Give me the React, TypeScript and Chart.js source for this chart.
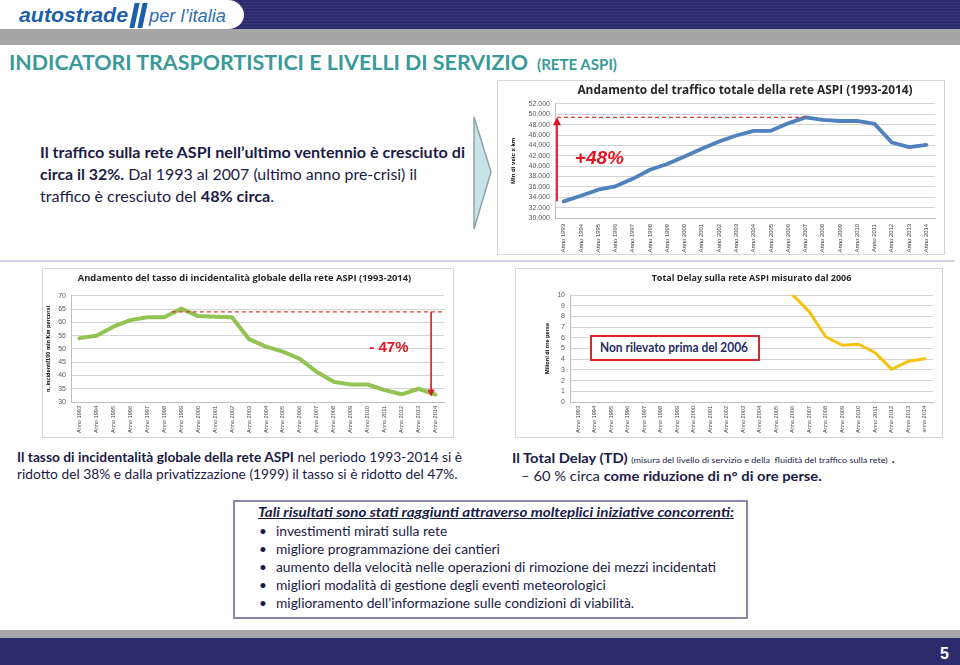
import React, { useEffect, useLayoutEffect, useRef } from "react";
import { Chart, registerables } from "chart.js";

Chart.register(...registerables);
Chart.defaults.font.family = "Liberation Sans";

// ---------------- DATA ----------------
const YEARS = ["1993", "1994", "1995", "1996", "1997", "1998", "1999", "2000", "2001", "2002", "2003",
  "2004", "2005", "2006", "2007", "2008", "2009", "2010", "2011", "2012", "2013", "2014"];
const TRAFFIC_LABELS = YEARS.map((y) => "Anno " + y);
const INCIDENT_LABELS = YEARS.map((y) => "Anno " + y);
const DELAY_LABELS = YEARS.map((y, i) => (i === YEARS.length - 1 ? "anno " : "Anno ") + y);

// Mln di veicoli x km
const TRAFFIC_VALUES = [33200, 34300, 35450, 36100, 37550, 39300, 40400, 41850, 43350, 44750, 45900,
  46800, 46800, 48250, 49400, 48900, 48700, 48700, 48150, 44550, 43650, 44100];
// incidenti / 100 mln km percorsi
const INCIDENT_VALUES = [54.1, 55.0, 58.4, 60.9, 62.0, 62.0, 65.2, 62.4, 62.2, 62.0, 53.7,
  50.9, 49.0, 46.3, 41.3, 37.6, 36.6, 36.6, 34.5, 32.9, 35.0, 32.8];
// milioni di ore perse (misurato dal 2006)
const DELAY_VALUES: (number | null)[] = [null, null, null, null, null, null, null, null, null, null, null,
  null, null, 10.0, 8.45, 6.1, 5.3, 5.4, 4.6, 3.05, 3.8, 4.05];

const TRAFFIC_TICKS = { min: 30000, max: 52000, step: 2000 };
const INCIDENT_TICKS = { min: 30, max: 70, step: 5 };
const DELAY_TICKS = { min: 0, max: 10, step: 1 };

const TRAFFIC_TITLE = "Andamento del traffico totale della rete ASPI (1993-2014)";
const INCIDENT_TITLE = "Andamento del tasso di incidentalità globale della rete ASPI (1993-2014)";
const DELAY_TITLE = "Total Delay sulla rete ASPI misurato dal 2006";

// annotations (values)
const TRAFFIC_REF_VALUE = 49400; // 2007 peak
const TRAFFIC_REF_END_INDEX = 14; // 2007
const TRAFFIC_ARROW_FROM = 33250;
const TRAFFIC_BADGE = "+48%";
const TRAFFIC_BADGE_POS = { index: 0.65, value: 41400 };

const INCIDENT_REF_VALUE = 64;
const INCIDENT_REF_START_INDEX = 5.45;
const INCIDENT_ARROW_INDEX = 20.74;
const INCIDENT_ARROW_TO = 32.1;
const INCIDENT_BADGE = "- 47%";
const INCIDENT_BADGE_POS = { index: 18.25, value: 50.3 };

const fmtThousands = (v: number) => {
  const s = Math.round(v).toString();
  return s.replace(/\B(?=(\d{3})+(?!\d))/g, ".");
};

const RED = "#e3161f";

function drawArrow(ctx: CanvasRenderingContext2D, x: number, y0: number, y1: number, color: string, w: number, head: number) {
  ctx.save();
  ctx.strokeStyle = color;
  ctx.fillStyle = color;
  ctx.lineWidth = w;
  const dir = y1 < y0 ? -1 : 1;
  ctx.beginPath();
  ctx.moveTo(x, y0);
  ctx.lineTo(x, y1 - dir * head * 0.9);
  ctx.stroke();
  ctx.beginPath();
  ctx.moveTo(x, y1);
  ctx.lineTo(x - head * 0.5, y1 - dir * head);
  ctx.lineTo(x + head * 0.5, y1 - dir * head);
  ctx.closePath();
  ctx.fill();
  ctx.restore();
}

function dashed(ctx: CanvasRenderingContext2D, x0: number, x1: number, y: number) {
  ctx.save();
  ctx.strokeStyle = "#e2363c";
  ctx.lineWidth = 1.3;
  ctx.setLineDash([4, 3]);
  ctx.beginPath();
  ctx.moveTo(x0, y);
  ctx.lineTo(x1, y);
  ctx.stroke();
  ctx.restore();
}

// ---------------- TEXT HELPERS ----------------
type LineProps = {
  x: number; y: number; w?: number; size: number; color?: string; weight?: number | string;
  italic?: boolean; underline?: boolean; family?: string; fit?: boolean; children: React.ReactNode;
};

function Line({ x, y, w, size, color = "#1b1b45", weight = 400, italic, underline, family = "Lato", fit, children }: LineProps) {
  const ref = useRef<HTMLSpanElement>(null);
  useLayoutEffect(() => {
    const el = ref.current;
    if (!el || !w) return;
    const doFit = () => {
      el.style.transform = "none";
      const cw = el.getBoundingClientRect().width;
      if (cw > 0) el.style.transform = `scaleX(${w / cw})`;
    };
    doFit();
    (document as any).fonts?.ready?.then(doFit);
  }, [w]);
  const lh = Math.round(size * 1.25);
  return (
    <span
      ref={ref}
      data-fit={fit ? "1" : undefined}
      style={{
        position: "absolute", left: x, top: y - lh / 2, lineHeight: lh + "px", fontSize: size,
        fontFamily: family, fontWeight: weight as any, fontStyle: italic ? "italic" : "normal",
        textDecoration: underline ? "underline" : "none", color, whiteSpace: "nowrap", transformOrigin: "0 50%",
      }}
    >
      {children}
    </span>
  );
}

function FitBlock({ left, top, target, children }: { left: number; top: number; target: number; children: React.ReactNode }) {
  const ref = useRef<HTMLDivElement>(null);
  useLayoutEffect(() => {
    const el = ref.current;
    if (!el) return;
    const doFit = () => {
      el.style.transform = "none";
      const r = el.querySelector("[data-fit]") as HTMLElement | null;
      if (!r) return;
      const w = r.getBoundingClientRect().width;
      if (w > 0) el.style.transform = `scaleX(${target / w})`;
    };
    doFit();
    (document as any).fonts?.ready?.then(doFit);
  }, [target]);
  return <div ref={ref} style={{ position: "absolute", left, top, transformOrigin: "0 0" }}>{children}</div>;
}

// ---------------- APP ----------------
export default function App() {
  const c1 = useRef<HTMLCanvasElement>(null);
  const c2 = useRef<HTMLCanvasElement>(null);
  const c3 = useRef<HTMLCanvasElement>(null);

  useEffect(() => {
    const xTicks = (size: number, pad: number) => ({
      autoSkip: false, maxRotation: 90, minRotation: 90, font: { size }, color: "#404040", padding: pad,
    });
    const xGrid = { display: false, drawTicks: false };
    const yTicks = (step: number, extra: any = {}) => ({
      stepSize: step, autoSkip: false, font: { size: 7 }, color: "#595959", padding: 5, ...extra,
    });

    const chart1 = new Chart(c1.current!, {
      type: "line",
      data: {
        labels: TRAFFIC_LABELS,
        datasets: [{
          data: TRAFFIC_VALUES, borderColor: "#4f81bd", borderWidth: 3.8, pointRadius: 0, tension: 0,
          borderJoinStyle: "round", borderCapStyle: "round", fill: false,
        }],
      },
      options: {
        responsive: false, animation: false, maintainAspectRatio: false,
        layout: { padding: { left: 13, right: 10, top: 0, bottom: 0 } },
        plugins: {
          legend: { display: false }, tooltip: { enabled: false },
          title: {
            display: true, text: TRAFFIC_TITLE, fullSize: false, color: "#262626",
            font: { family: "Open Sans", size: 11.9, weight: "bold" }, padding: { top: 3, bottom: 6.6 },
          },
        },
        scales: {
          x: {
            offset: true, grid: xGrid, border: { color: "#bfbfbf" }, ticks: xTicks(5.9, 6),
            afterFit: (s: any) => { s.height = 37; },
          },
          y: {
            min: TRAFFIC_TICKS.min, max: TRAFFIC_TICKS.max,
            ticks: yTicks(TRAFFIC_TICKS.step, { callback: (v: any) => fmtThousands(Number(v)) }),
            grid: { color: "#d3d3d3", drawTicks: false }, border: { color: "#bfbfbf" },
            title: { display: true, text: "Mln di veic x km", font: { size: 6, weight: "bold" }, color: "#000", padding: 0 },
            afterFit: (s: any) => { s.width = 45; },
          },
        },
      },
      plugins: [{
        id: "annot1",
        afterDatasetsDraw(chart: any) {
          const { ctx, chartArea, scales } = chart;
          const yRef = scales.y.getPixelForValue(TRAFFIC_REF_VALUE);
          dashed(ctx, chartArea.left + 2, scales.x.getPixelForValue(TRAFFIC_REF_END_INDEX), yRef);
          drawArrow(ctx, chartArea.left + 2, scales.y.getPixelForValue(TRAFFIC_ARROW_FROM), yRef, RED, 1.8, 8);
          ctx.save();
          ctx.fillStyle = RED;
          ctx.font = "italic bold 19px 'Liberation Sans'";
          ctx.textBaseline = "middle";
          ctx.fillText(TRAFFIC_BADGE, scales.x.getPixelForValue(TRAFFIC_BADGE_POS.index), scales.y.getPixelForValue(TRAFFIC_BADGE_POS.value));
          ctx.restore();
        },
      }],
    } as any);

    const chart2 = new Chart(c2.current!, {
      type: "line",
      data: {
        labels: INCIDENT_LABELS,
        datasets: [{
          data: INCIDENT_VALUES, borderColor: "#92c353", borderWidth: 4, pointRadius: 0, tension: 0,
          borderJoinStyle: "round", borderCapStyle: "round", fill: false,
        }],
      },
      options: {
        responsive: false, animation: false, maintainAspectRatio: false,
        layout: { padding: { left: 3, right: 10, top: 0, bottom: 0 } },
        plugins: {
          legend: { display: false }, tooltip: { enabled: false },
          title: {
            display: true, text: INCIDENT_TITLE, color: "#262626",
            font: { family: "Open Sans", size: 9.4, weight: "bold" }, padding: { top: 5, bottom: 11.7 },
          },
        },
        scales: {
          x: {
            offset: true, grid: xGrid, border: { color: "#bfbfbf" }, ticks: xTicks(5.6, 4),
            afterFit: (s: any) => { s.height = 36; },
          },
          y: {
            min: INCIDENT_TICKS.min, max: INCIDENT_TICKS.max,
            ticks: yTicks(INCIDENT_TICKS.step),
            grid: { color: "#d3d3d3", drawTicks: false }, border: { color: "#bfbfbf" },
            title: { display: true, text: "n. incidenti/100 mln Km percorsi", font: { size: 5.6, weight: "bold" }, color: "#000", padding: 0 },
            afterFit: (s: any) => { s.width = 26; },
          },
        },
      },
      plugins: [{
        id: "annot2",
        afterDatasetsDraw(chart: any) {
          const { ctx, chartArea, scales } = chart;
          const yRef = scales.y.getPixelForValue(INCIDENT_REF_VALUE);
          dashed(ctx, scales.x.getPixelForValue(INCIDENT_REF_START_INDEX), chartArea.right - 2, yRef);
          drawArrow(ctx, scales.x.getPixelForValue(INCIDENT_ARROW_INDEX), yRef, scales.y.getPixelForValue(INCIDENT_ARROW_TO), RED, 1.6, 7);
          ctx.save();
          ctx.fillStyle = RED;
          ctx.font = "bold 15px 'Liberation Sans'";
          ctx.textBaseline = "middle";
          ctx.textAlign = "center";
          ctx.fillText(INCIDENT_BADGE, scales.x.getPixelForValue(INCIDENT_BADGE_POS.index), scales.y.getPixelForValue(INCIDENT_BADGE_POS.value));
          ctx.restore();
        },
      }],
    } as any);

    const chart3 = new Chart(c3.current!, {
      type: "line",
      data: {
        labels: DELAY_LABELS,
        datasets: [{
          data: DELAY_VALUES, borderColor: "#f4c20f", borderWidth: 3, pointRadius: 0, tension: 0,
          borderJoinStyle: "round", borderCapStyle: "round", fill: false, spanGaps: false,
        }],
      },
      options: {
        responsive: false, animation: false, maintainAspectRatio: false,
        layout: { padding: { left: 29, right: 10, top: 0, bottom: 0 } },
        plugins: {
          legend: { display: false }, tooltip: { enabled: false },
          title: {
            display: true, text: DELAY_TITLE, fullSize: false, color: "#262626",
            font: { family: "Open Sans", size: 9, weight: "bold" }, padding: { top: 5, bottom: 11.2 },
          },
        },
        scales: {
          x: {
            offset: true, grid: xGrid, border: { color: "#bfbfbf" }, ticks: xTicks(5.6, 4),
            afterFit: (s: any) => { s.height = 36; },
          },
          y: {
            min: DELAY_TICKS.min, max: DELAY_TICKS.max,
            ticks: yTicks(DELAY_TICKS.step),
            grid: { color: "#d3d3d3", drawTicks: false }, border: { color: "#bfbfbf" },
            title: { display: true, text: "Milioni di ore perse", font: { size: 5.6, weight: "bold" }, color: "#000", padding: 0 },
            afterFit: (s: any) => { s.width = 26; },
          },
        },
      },
    } as any);

    return () => {
      chart1.destroy();
      chart2.destroy();
      chart3.destroy();
    };
  }, []);

  const navy = "#2c2b6c";
  return (
    <div style={{ position: "absolute", left: 0, top: 0, width: 960, height: 665, overflow: "hidden", background: "#fff", fontFamily: "Lato" }}>
      {/* header */}
      <div style={{ position: "absolute", left: 220, top: 0, width: 740, height: 29, background: `repeating-linear-gradient(180deg, ${navy} 0px, ${navy} 2px, #36357a 2px, #36357a 3px)` }} />
      <div style={{ position: "absolute", left: 0, top: 0, width: 244, height: 29, background: "#fff", borderRadius: "0 16px 16px 0 / 0 15px 14px 0" }} />
      <div style={{ position: "absolute", left: 0, top: 29, width: 960, height: 16, background: "#a6a6a6" }} />
      <Line x={19} y={15} w={109} size={21} family="Liberation Sans" weight={700} italic color="#1d5fa8">autostrade</Line>
      <div style={{ position: "absolute", left: 132, top: 3, width: 5, height: 25, background: "#1d5fa8", transform: "skewX(-12deg)" }} />
      <div style={{ position: "absolute", left: 140, top: 3, width: 5, height: 25, background: "#1d5fa8", transform: "skewX(-12deg)" }} />
      <Line x={149} y={16} w={77} size={19} family="Liberation Sans" italic color="#2d6db5">per l’italia</Line>

      {/* title */}
      <Line x={9} y={62} w={519} size={21} weight={700} color="#3a9a9a">INDICATORI TRASPORTISTICI E LIVELLI DI SERVIZIO</Line>
      <Line x={537} y={64} w={80} size={15} weight={700} color="#3a9a9a">(RETE ASPI)</Line>

      {/* top-left paragraph */}
      <Line x={40} y={152} w={425} size={15.5} weight={700}>Il traffico sulla rete ASPI nell’ultimo ventennio è cresciuto di</Line>
      <Line x={40} y={174} w={377} size={15.5}><b>circa il 32%.</b> Dal 1993 al 2007 (ultimo anno pre-crisi) il</Line>
      <Line x={40} y={196} w={234} size={15.5}>traffico è cresciuto del <b>48% circa</b>.</Line>

      {/* chevron + separator */}
      <svg style={{ position: "absolute", left: 0, top: 0 }} width={960} height={665}>
        <polygon points="474,117 491,172 474,229" fill="#c6e4e8" stroke="#8fa3a8" strokeWidth={1.5} />
        <line x1={0} y1={261} x2={955} y2={261} stroke="#d2d1e6" strokeWidth={2} />
      </svg>

      {/* chart frames */}
      <div style={{ position: "absolute", left: 497, top: 80, width: 446, height: 173, border: "1px solid #d6d6d6" }} />
      <div style={{ position: "absolute", left: 42, top: 268, width: 410, height: 168, border: "1px solid #d6d6d6" }} />
      <div style={{ position: "absolute", left: 515, top: 268, width: 426, height: 168, border: "1px solid #d6d6d6" }} />

      <canvas ref={c1} width={448} height={175} style={{ position: "absolute", left: 497, top: 80, width: 448, height: 175 }} />
      <canvas ref={c2} width={412} height={170} style={{ position: "absolute", left: 42, top: 268, width: 412, height: 170 }} />
      <canvas ref={c3} width={428} height={170} style={{ position: "absolute", left: 515, top: 268, width: 428, height: 170 }} />

      {/* chart 3 note */}
      <div style={{ position: "absolute", left: 590, top: 335, width: 166, height: 22, border: "2px solid #d9262b", background: "#fff" }} />
      <Line x={600} y={347} w={148} size={13} weight={700} color="#1f2d66">Non rilevato prima del 2006</Line>

      {/* middle texts */}
      <FitBlock left={17} top={448} target={445}>
        <Line x={0} y={9} size={13} fit><b>Il tasso di incidentalità globale della rete ASPI</b> nel periodo 1993-2014 si è</Line>
        <Line x={0} y={26} size={13}>ridotto del 38% e dalla privatizzazione (1999) il tasso si è ridotto del 47%.</Line>
      </FitBlock>
      <FitBlock left={512} top={448} target={383}>
        <Line x={0} y={10} size={13} fit><b>Il Total Delay (TD)</b> <span style={{ fontSize: 8 }}>(misura del livello di servizio e della&nbsp; fluidità del traffico sulla rete)</span> .</Line>
        <Line x={8} y={28} size={13}>– 60 % circa <b>come riduzione di n° di ore perse.</b></Line>
      </FitBlock>

      {/* box */}
      <div style={{ position: "absolute", left: 233, top: 500, width: 511, height: 115, border: "2px solid #8a88aa" }} />
      <Line x={258} y={512} w={476} size={13.5} weight={700} italic underline>Tali risultati sono stati raggiunti attraverso molteplici iniziative concorrenti:</Line>
      <Line x={259} y={531} size={13.5}>•</Line>
      <Line x={259} y={549} size={13.5}>•</Line>
      <Line x={259} y={567} size={13.5}>•</Line>
      <Line x={259} y={585} size={13.5}>•</Line>
      <Line x={259} y={603} size={13.5}>•</Line>
      <FitBlock left={276} top={503} target={440}>
        <Line x={0} y={28} size={13.5}>investimenti mirati sulla rete</Line>
        <Line x={0} y={46} size={13.5}>migliore programmazione dei cantieri</Line>
        <Line x={0} y={64} size={13.5} fit>aumento della velocità nelle operazioni di rimozione dei mezzi incidentati</Line>
        <Line x={0} y={82} size={13.5}>migliori modalità di gestione degli eventi meteorologici</Line>
        <Line x={0} y={100} size={13.5}>miglioramento dell’informazione sulle condizioni di viabilità.</Line>
      </FitBlock>

      {/* footer */}
      <div style={{ position: "absolute", left: 0, top: 630, width: 960, height: 8, background: "#a6a6a6" }} />
      <div style={{ position: "absolute", left: 0, top: 638, width: 960, height: 27, background: navy }} />
      <Line x={940} y={654} size={16} family="Liberation Sans" weight={700} color="#ffffff">5</Line>
    </div>
  );
}
